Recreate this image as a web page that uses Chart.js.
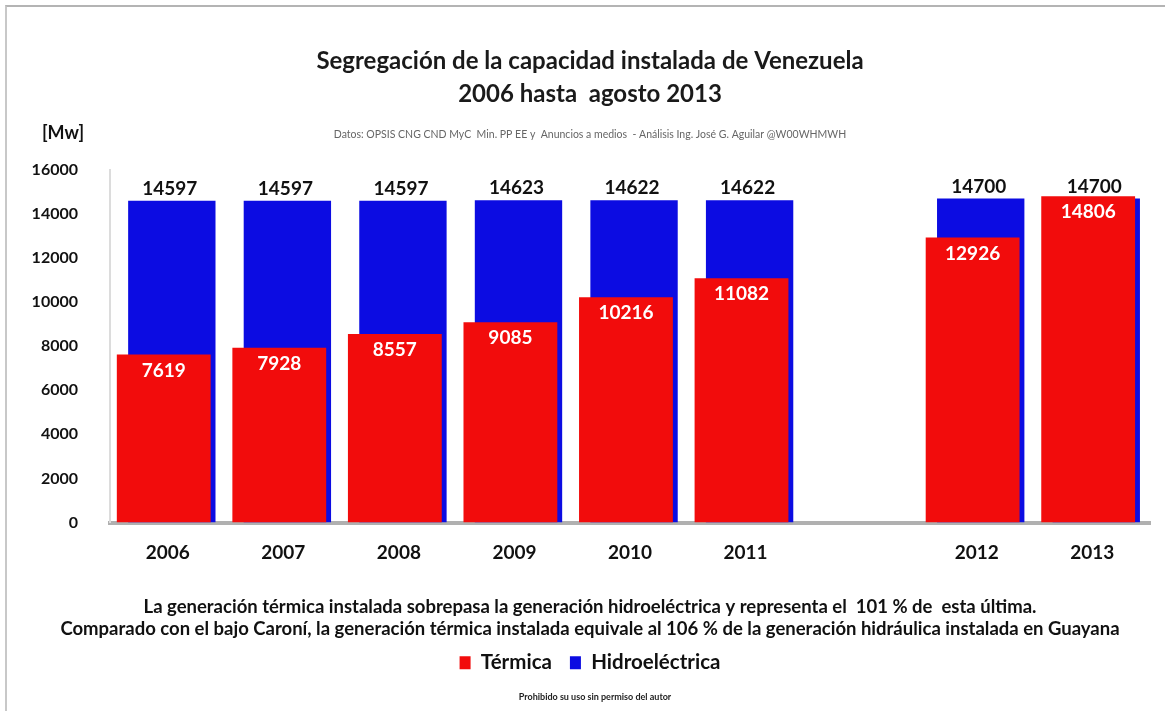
<!DOCTYPE html>
<html>
<head>
<meta charset="utf-8">
<script src="https://cdn.jsdelivr.net/npm/chart.js@4"></script>
<style>
    html, body { margin: 0; padding: 0; background: #fff; }
    #wrap {
        position: relative;
        width: 1165px;
        height: 711px;
    }
    #frame {
        position: absolute;
        left: 5px; top: 5px; right: 0; bottom: 0;
        border-top: 2px solid #b4b4b4;
        border-left: 2px solid #c8c8c8;
        pointer-events: none;
    }
</style>
</head>
<body>
<div id="wrap">
    <canvas id="myChart" width="1165" height="711"></canvas>
    <div id="frame"></div>
</div>
<script>
// years (empty slot between 2011 and 2012 as in the original)
const years = ["2006", "2007", "2008", "2009", "2010", "2011", "", "2012", "2013"];
const termica = [7619, 7928, 8557, 9085, 10216, 11082, null, 12926, 14806];
const hidro = [14597, 14597, 14597, 14623, 14622, 14622, null, 14700, 14700];
const yTicks = [0, 2000, 4000, 6000, 8000, 10000, 12000, 14000, 16000];

const FONT = "Lato, 'Open Sans', sans-serif";
const ROJO = "#f20c0c";
const AZUL = "#0c0ce2";

const notaLineas = [
    "La generación térmica instalada sobrepasa la generación hidroeléctrica y representa el  101 % de  esta última.",
    "Comparado con el bajo Caroní, la generación térmica instalada equivale al 106 % de la generación hidráulica instalada en Guayana",
];

// value labels + small extra texts
const etiquetas = {
    id: "etiquetas",
    afterDatasetsDraw(chart) {
        const ctx = chart.ctx;
        ctx.save();
        ctx.textAlign = "center";
        ctx.textBaseline = "middle";
        ctx.font = "bold 19px " + FONT;

        const metaH = chart.getDatasetMeta(1);
        metaH.data.forEach((bar, i) => {
            if (hidro[i] == null) return;
            ctx.fillStyle = "#111";
            ctx.fillText(hidro[i], bar.x - 2, bar.y - 12);
        });
        const metaT = chart.getDatasetMeta(0);
        metaT.data.forEach((bar, i) => {
            if (termica[i] == null) return;
            ctx.fillStyle = "#fff";
            ctx.fillText(termica[i], bar.x, bar.y + 16);
        });

        // unit label
        const y = chart.scales.y;
        ctx.font = "bold 18px " + FONT;
        ctx.fillStyle = "#111";
        ctx.fillText("[Mw]", 63, y.top - 37);

        // footer
        ctx.font = "bold 9px " + FONT;
        ctx.fillStyle = "#222";
        ctx.fillText("Prohibido su uso sin permiso del autor", 595, 697);
        ctx.restore();
    },
};

const ctx = document.getElementById("myChart");

new Chart(ctx, {
    type: "bar",
    data: {
        labels: years,
        datasets: [
            {
                label: "Térmica",
                data: termica,
                backgroundColor: ROJO,
                barPercentage: 11.6,
                categoryPercentage: 0.14,
            },
            {
                label: "Hidroeléctrica",
                data: hidro,
                backgroundColor: AZUL,
                barPercentage: 10.8,
                categoryPercentage: 0.14,
            },
        ],
    },
    options: {
        responsive: false,
        animation: false,
        layout: {
            padding: { top: 30, left: 30, right: 15, bottom: 28 },
        },
        plugins: {
            title: {
                display: true,
                text: ["Segregación de la capacidad instalada de Venezuela", "2006 hasta  agosto 2013"],
                color: "#1a1a1a",
                font: { family: FONT, size: 24, weight: "bold", lineHeight: 1.38 },
                padding: { top: 15, bottom: 8 },
            },
            subtitle: {
                display: true,
                text: "Datos: OPSIS CNG CND MyC  Min. PP EE y  Anuncios a medios  - Análisis Ing. José G. Aguilar @W00WHMWH",
                color: "#666",
                font: { family: FONT, size: 10.5 },
                padding: { top: 9, bottom: 29 },
            },
            legend: {
                position: "bottom",
                title: {
                    display: true,
                    text: notaLineas,
                    color: "#111",
                    font: { family: FONT, size: 18.5, weight: "bold", lineHeight: 1.2 },
                    padding: { top: 22, bottom: 15 },
                },
                labels: {
                    color: "#111",
                    font: { family: FONT, size: 20.5, weight: "bold" },
                    boxWidth: 11,
                    boxHeight: 13,
                    padding: 18,
                },
            },
            tooltip: { enabled: false },
        },
        scales: {
            x: {
                grid: { display: false },
                border: { display: true, color: "#b0b0b0", width: 4 },
                ticks: {
                    color: "#111",
                    font: { family: FONT, size: 19, weight: "bold" },
                    padding: 11,
                },
            },
            y: {
                min: 0,
                max: 16000,
                afterBuildTicks(axis) {
                    axis.ticks = yTicks.map((v) => ({ value: v }));
                },
                afterFit(axis) {
                    axis.width = 80;
                },
                grid: { display: false, drawTicks: false },
                border: { display: true, color: "#dcdcdc", width: 2 },
                ticks: {
                    color: "#111",
                    font: { family: FONT, size: 16, weight: "bold" },
                    padding: 32,
                    callback: (v) => String(v),
                },
            },
        },
    },
    plugins: [etiquetas],
});
</script>
</body>
</html>
